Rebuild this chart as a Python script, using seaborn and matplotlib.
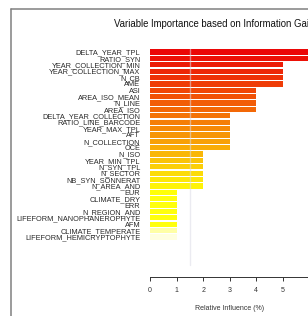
import colorsys
import matplotlib
matplotlib.use("Agg")
import matplotlib.pyplot as plt
import seaborn as sns
import pandas as pd
from matplotlib.lines import Line2D

variables = [
    "DELTA_YEAR_TPL", "RATIO_SYN", "YEAR_COLLECTION_MIN", "YEAR_COLLECTION_MAX",
    "N_CB", "AME", "ASI", "AREA_ISO_MEAN", "N_LINE", "AREA_ISO",
    "DELTA_YEAR_COLLECTION", "RATIO_LINE_BARCODE", "YEAR_MAX_TPL", "AFT",
    "N_COLLECTION", "OCE", "N_ISO", "YEAR_MIN_TPL", "N_SYN_TPL", "N_SECTOR",
    "NB_SYN_SONNERAT", "N_AREA_AND", "EUR", "CLIMATE_DRY", "ERR",
    "N_REGION_AND", "LIFEFORM_NANOPHANEROPHYTE", "AFM", "CLIMATE_TEMPERATE",
    "LIFEFORM_HEMICRYPTOPHYTE",
]
influence = [6.5, 6.3, 5, 5, 5, 5, 4, 4, 4, 4, 3, 3, 3, 3, 3, 3,
             2, 2, 2, 2, 2, 2, 1, 1, 1, 1, 1, 1, 1, 1]
x_ticks = [0, 1, 2, 3, 4, 5, 6]
title = "Variable Importance based on Information Gain"
x_label = "Relative Influence (%)"

# heat-like colour ramp: red -> orange -> yellow -> pale yellow
colors = []
n = len(variables)
for i in range(n):
    if i <= 22:
        h = (i / 22.0) * (60 / 360.0)
        r, g, b = colorsys.hsv_to_rgb(h, 0.97, 0.92 + 0.08 * i / 22.0)
    elif i < 28:
        r, g, b = colorsys.hsv_to_rgb(60 / 360.0, 0.95, 1.0)
    elif i == 28:
        r, g, b = colorsys.hsv_to_rgb(60 / 360.0, 0.35, 1.0)
    else:
        r, g, b = colorsys.hsv_to_rgb(60 / 360.0, 0.12, 1.0)
    colors.append((r, g, b))

df = pd.DataFrame({"variable": variables, "influence": influence})

sns.set_theme(style="white")
plt.rcParams["font.family"] = ["Liberation Sans", "DejaVu Sans"]

W, H = 308, 316
fig = plt.figure(figsize=(W / 100, H / 100), dpi=100)
fig.patch.set_facecolor("white")

left_px, right_px = 150, 310
top_px, bottom_px = 48.8, 277
ax = fig.add_axes([left_px / W, 1 - bottom_px / H,
                   (right_px - left_px) / W, (bottom_px - top_px) / H])

sns.barplot(data=df, x="influence", y="variable", hue="variable",
            palette=colors, legend=False, orient="h", width=0.82,
            saturation=1, ax=ax, linewidth=0)

ax.set_xlim(0, 6.02)
row_px = (237 - 52) / 29.0
ax.set_ylim((bottom_px - 52) / row_px, -0.5)

ax.axvline(1.5, ymin=(bottom_px - 265) / (bottom_px - top_px), ymax=1.0,
           color="#dcdce6", lw=1.0, alpha=0.55, zorder=5)

for s in ["top", "right", "left"]:
    ax.spines[s].set_visible(False)
ax.spines["bottom"].set_color("#333333")
ax.spines["bottom"].set_linewidth(0.7)
ax.set_xticks(x_ticks)
ax.set_xticklabels([str(t) for t in x_ticks])
ax.tick_params(axis="x", direction="out", length=3, width=0.7, color="#333333",
               labelsize=5, labelcolor="#333333", pad=4, bottom=True)
ax.tick_params(axis="y", length=0, labelsize=5.3, labelcolor="#2a2a2a", pad=7)
ax.set_ylabel("")
ax.set_xlabel(x_label, fontsize=5, color="#333333", labelpad=8)

fig.text(214 / W, 1 - 24 / H, title, ha="center", va="center",
         fontsize=6.9, color="#111111")

fig.add_artist(Line2D([10.5 / W, 10.5 / W], [0, 1 - 9 / H],
                      transform=fig.transFigure, color="#808080", lw=1.1))
fig.add_artist(Line2D([10.5 / W, 1], [1 - 9 / H, 1 - 9 / H],
                      transform=fig.transFigure, color="#808080", lw=1.1))

fig.savefig("out.png", dpi=100)
